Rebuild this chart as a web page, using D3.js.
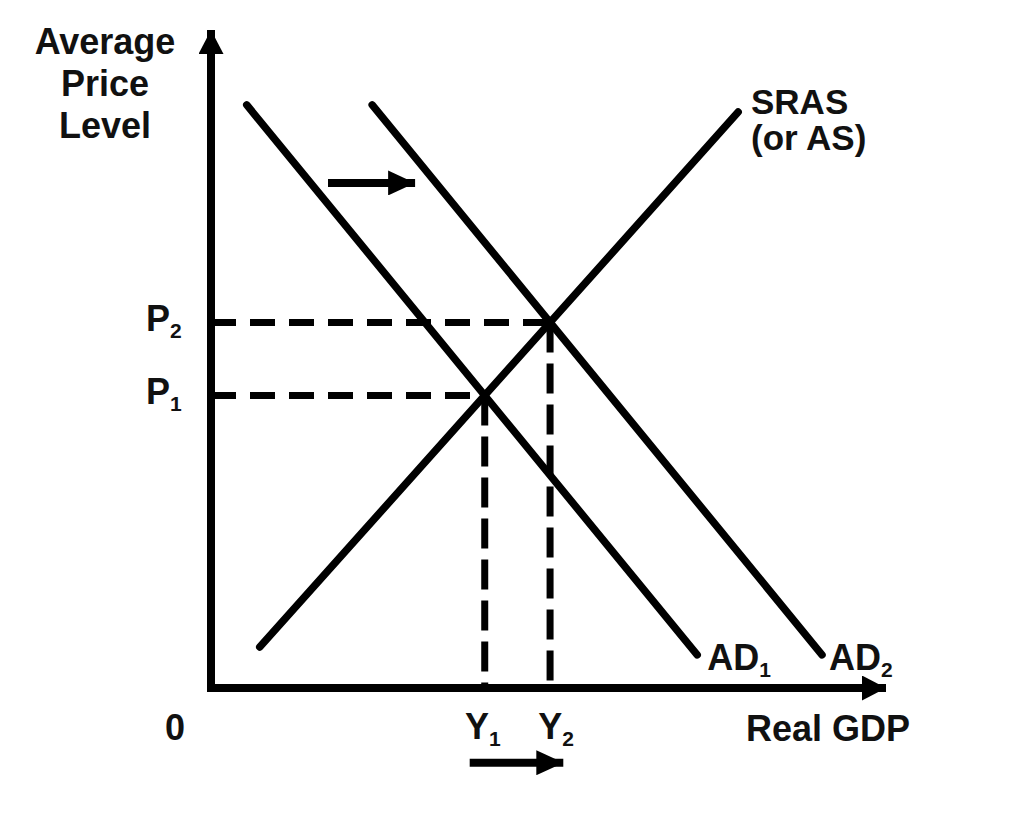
<!DOCTYPE html>
<html>
<head>
<meta charset="utf-8">
<script src="https://cdn.jsdelivr.net/npm/d3@7"></script>
<style>
  html, body { margin: 0; padding: 0; background: #fff; }
  svg { display: block; }
  text { font-family: "Liberation Sans", Arial, sans-serif; font-weight: bold; fill: #111; }
</style>
</head>
<body>
<svg id="chart" width="1014" height="820"></svg>
<script>
// ---- data (conceptual units, 0..100 on both axes) ----
const curveNames = ["AD1", "AD2", "SRAS"];
const ad1 = [[5.5, 89.7], [74.8, 5.1]];
const ad2 = [[24.8, 89.7], [94.0, 5.1]];
const sras = [[7.5, 6.3], [81.1, 88.6]];
const shiftArrowTop = [[18.0, 77.7], [31.4, 77.7]];
const shiftArrowBottom = [[39.8, -11.5], [54.2, -11.5]];
const yAxisTitle = ["Average", "Price", "Level"];
const xAxisTitle = "Real GDP";
const srasLabel = ["SRAS", "(or AS)"];

const svg = d3.select("#chart");
const x = d3.scaleLinear().domain([0, 100]).range([211, 861]);
const y = d3.scaleLinear().domain([0, 100]).range([688, 38]);
const ink = "#000";

// arrowhead markers
const defs = svg.append("defs");
function marker(id, len, wid) {
  defs.append("marker")
    .attr("id", id)
    .attr("markerUnits", "userSpaceOnUse")
    .attr("viewBox", `0 0 ${len} ${wid}`)
    .attr("refX", len).attr("refY", wid / 2)
    .attr("markerWidth", len).attr("markerHeight", wid)
    .attr("orient", "auto")
    .append("path")
    .attr("d", `M0,0 L${len},${wid / 2} L0,${wid} Z`)
    .attr("fill", ink);
}
marker("axisHead", 24, 25);
marker("shiftHead", 27, 25);

// intersection helper
function intersect(a, b) {
  const [[x1, y1], [x2, y2]] = a, [[x3, y3], [x4, y4]] = b;
  const d = (x1 - x2) * (y3 - y4) - (y1 - y2) * (x3 - x4);
  const t = ((x1 - x3) * (y3 - y4) - (y1 - y3) * (x3 - x4)) / d;
  return [x1 + t * (x2 - x1), y1 + t * (y2 - y1)];
}
const e1 = intersect(ad1, sras);
const e2 = intersect(ad2, sras);
const equilibria = [{p: e1, i: "1", dx: -2}, {p: e2, i: "2", dx: 6}];

const line = d3.line().x(d => x(d[0])).y(d => y(d[1]));

// dashed guide lines
equilibria.forEach(e => {
  svg.append("path")
    .attr("d", line([[0, e.p[1]], e.p]))
    .attr("stroke", ink).attr("stroke-width", 7).attr("fill", "none")
    .attr("stroke-dasharray", "25,14");
  svg.append("path")
    .attr("d", line([e.p, [e.p[0], 0]]))
    .attr("stroke", ink).attr("stroke-width", 7).attr("fill", "none")
    .attr("stroke-dasharray", "30,11");
});

// curves
[ad1, ad2, sras].forEach((c, i) => {
  svg.append("path")
    .attr("class", "curve " + curveNames[i])
    .attr("d", line(c))
    .attr("stroke", ink).attr("stroke-width", 7.5).attr("fill", "none")
    .attr("stroke-linecap", "round");
});

// axes
svg.append("line")
  .attr("x1", x(0)).attr("y1", y(0) + 4)
  .attr("x2", x(0)).attr("y2", 30)
  .attr("stroke", ink).attr("stroke-width", 8)
  .attr("marker-end", "url(#axisHead)");
svg.append("line")
  .attr("x1", x(0) - 4).attr("y1", y(0))
  .attr("x2", 886).attr("y2", y(0))
  .attr("stroke", ink).attr("stroke-width", 8)
  .attr("marker-end", "url(#axisHead)");

// shift arrows
[shiftArrowTop, shiftArrowBottom].forEach(a => {
  svg.append("line")
    .attr("x1", x(a[0][0])).attr("y1", y(a[0][1]))
    .attr("x2", x(a[1][0])).attr("y2", y(a[1][1]))
    .attr("stroke", ink).attr("stroke-width", 8)
    .attr("marker-end", "url(#shiftHead)");
});

// text helpers
function subLabel(xp, yp, main, sub, anchor) {
  const t = svg.append("text")
    .attr("x", xp).attr("y", yp)
    .attr("font-size", 36)
    .attr("text-anchor", anchor || "start");
  t.append("tspan").text(main);
  t.append("tspan").attr("font-size", 21).attr("dy", 7).text(sub);
  return t;
}

// y-axis title
yAxisTitle.forEach((s, i) => {
  svg.append("text")
    .attr("x", 105).attr("y", 54 + i * 42)
    .attr("font-size", 36).attr("text-anchor", "middle")
    .text(s);
});

// price labels
equilibria.forEach(e => {
  subLabel(146, y(e.p[1]) + 9, "P", e.i);
});
// output labels
equilibria.forEach(e => {
  subLabel(x(e.p[0]) + e.dx, y(0) + 51, "Y", e.i, "middle");
});

// origin
svg.append("text").attr("x", 175).attr("y", 740)
  .attr("font-size", 36).attr("text-anchor", "middle").text("0");

// x-axis title
svg.append("text").attr("x", 746).attr("y", 741)
  .attr("font-size", 36).text(xAxisTitle);

// curve labels
subLabel(x(ad1[1][0]) + 10, y(ad1[1][1]) + 15, "AD", "1");
subLabel(x(ad2[1][0]) + 7, y(ad2[1][1]) + 15, "AD", "2");
srasLabel.forEach((s, i) => {
  svg.append("text")
    .attr("x", 751).attr("y", 114 + i * 36)
    .attr("font-size", 35).text(s);
});
</script>
</body>
</html>
